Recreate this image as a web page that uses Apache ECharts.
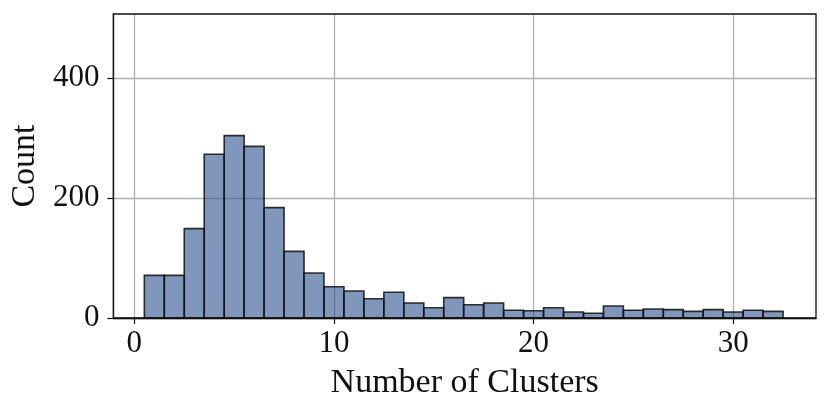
<!DOCTYPE html>
<html>
<head>
<meta charset="utf-8">
<script src="https://cdn.jsdelivr.net/npm/echarts@6/dist/echarts.min.js"></script>
<style>
  html, body { margin: 0; padding: 0; background: #fff; }
  #chart { width: 831px; height: 413px; }
</style>
</head>
<body>
<div id="chart"></div>
<script>
// histogram bins, width 1, centred on 1..32
const binCenters = [1, 2, 3, 4, 5, 6, 7, 8, 9, 10, 11, 12, 13, 14, 15, 16,
  17, 18, 19, 20, 21, 22, 23, 24, 25, 26, 27, 28, 29, 30, 31, 32];
const counts = [71, 71, 149, 273, 304, 286, 184, 111, 75, 52, 45, 32, 43, 25, 17, 34,
  22, 25, 13, 12, 17, 10, 8, 20, 13, 15, 14, 11, 14, 10, 13, 11];
const binWidth = 1;
const xTicks = [0, 10, 20, 30];
const yTicks = [0, 200, 400];

const serif = "'Liberation Serif', 'DejaVu Serif', serif";
const chart = echarts.init(document.getElementById("chart"));

const option = {
  animation: false,
  grid: {
    left: 112, right: 15, top: 14, bottom: 95,
    show: true, borderColor: "#111", borderWidth: 1.3, z: 3
  },
  xAxis: {
    type: "value",
    min: -1.05,
    max: 34.15,
    name: "Number of Clusters",
    nameLocation: "middle",
    nameGap: 48,
    nameTextStyle: { fontFamily: serif, fontSize: 34, color: "#111" },
    axisLine: { show: true, onZero: false, lineStyle: { color: "#111", width: 1.3 } },
    axisTick: { show: true, length: 6, customValues: xTicks, lineStyle: { color: "#111", width: 1.2 } },
    axisLabel: { customValues: xTicks, margin: 10, fontFamily: serif, fontSize: 31, color: "#111" },
    splitLine: { show: true, lineStyle: { color: "#b0b0b0", width: 1.3 } }
  },
  yAxis: {
    type: "value",
    min: 0,
    max: 506.7,
    name: "Count",
    nameLocation: "middle",
    nameGap: 70,
    nameTextStyle: { fontFamily: serif, fontSize: 34, color: "#111" },
    axisLine: { show: true, onZero: false, lineStyle: { color: "#111", width: 1.3 } },
    axisTick: { show: true, length: 6, customValues: yTicks, lineStyle: { color: "#111", width: 1.2 } },
    axisLabel: { customValues: yTicks, margin: 14, fontFamily: serif, fontSize: 31, color: "#111" },
    splitLine: { show: true, lineStyle: { color: "#b0b0b0", width: 1.3 } }
  },
  series: [{
    type: "custom",
    data: binCenters.map((c, i) => [c, counts[i]]),
    encode: { x: 0, y: 1 },
    renderItem: function (params, api) {
      const c = api.value(0);
      const p0 = api.coord([c - binWidth / 2, api.value(1)]);
      const p1 = api.coord([c + binWidth / 2, 0]);
      return {
        type: "rect",
        shape: { x: p0[0], y: p0[1], width: p1[0] - p0[0], height: p1[1] - p0[1] },
        style: { fill: "rgba(43,80,142,0.6)", stroke: "rgba(15,15,15,0.85)", lineWidth: 1.6 }
      };
    }
  }]
};
chart.setOption(option);
</script>
</body>
</html>
